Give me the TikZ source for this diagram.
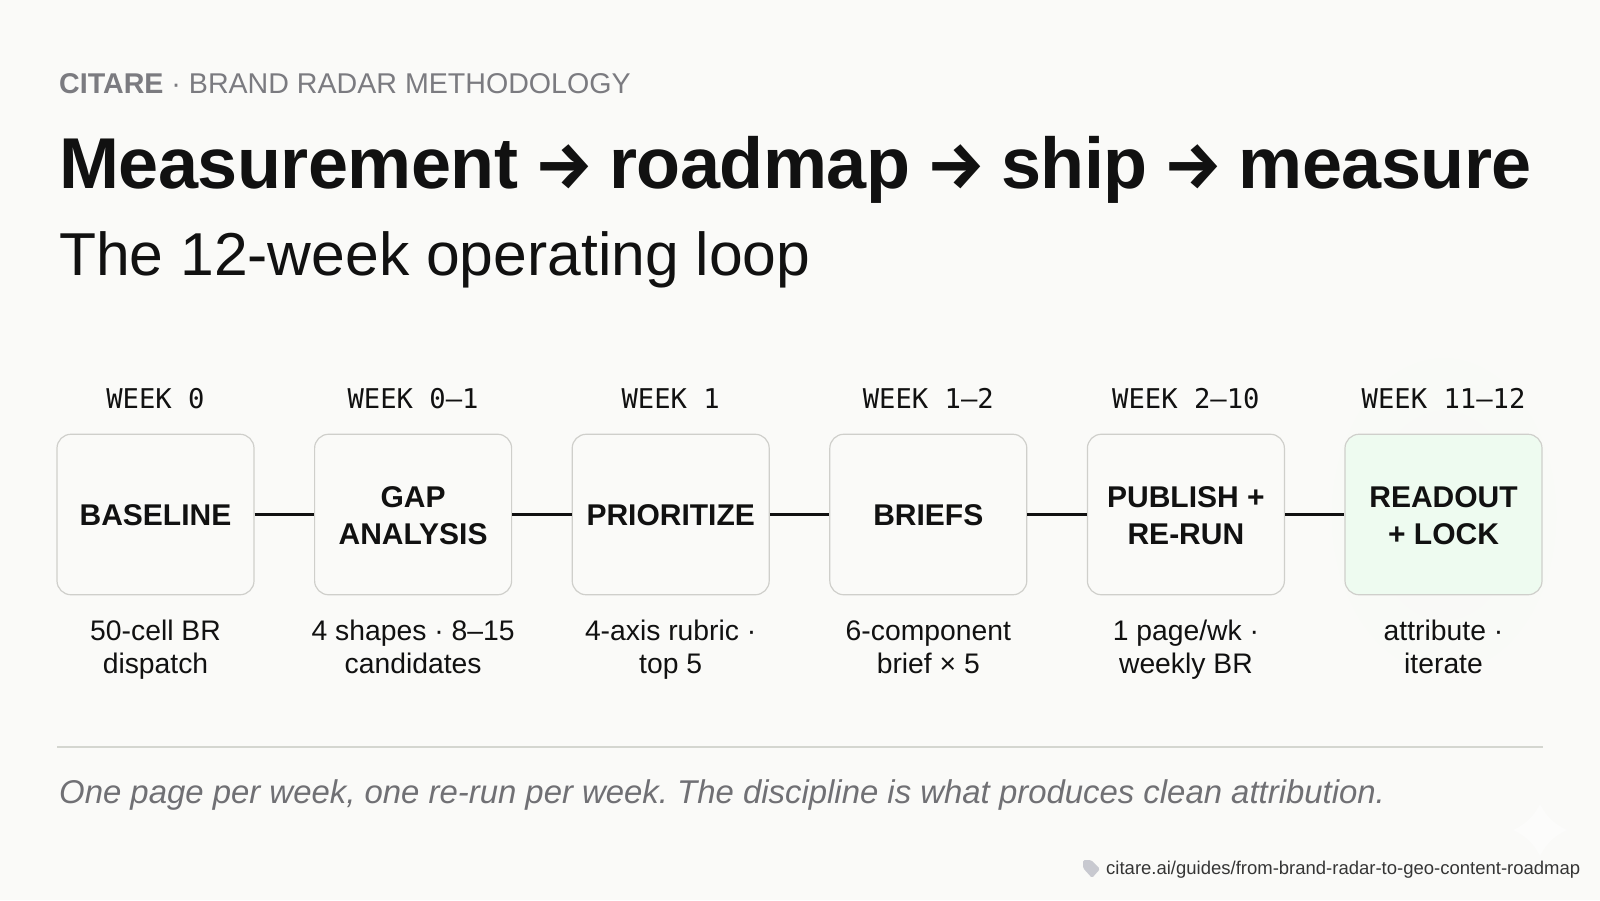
\documentclass[tikz,border=0pt]{standalone}
\usepackage{fontspec}
\setmainfont{Liberation Sans}
\setmonofont{DejaVu Sans Mono}
\newfontfamily\titlefont[LetterSpace=-0.7]{Liberation Sans}
\newfontfamily\arrowfont{Fira Sans}
\usepackage{xcolor}
\definecolor{pagebg}{HTML}{FAFAF8}
\definecolor{glowbg}{HTML}{F8F9F6}
\definecolor{ink}{HTML}{111111}
\definecolor{greytext}{HTML}{7B7B80}
\definecolor{footgrey}{HTML}{707074}
\definecolor{boxline}{HTML}{CFCFCB}
\definecolor{lockfill}{HTML}{EEFBF0}
\definecolor{rulegrey}{HTML}{D4D6D0}
\definecolor{tagicon}{HTML}{C8C9D0}
\definecolor{sparkle}{HTML}{FCFCFB}
\newcommand{\titlearrow}{\makebox[55pt][c]{\arrowfont\fontsize{66}{88}\selectfont\bfseries →}}
\newcommand{\lowline}{\rule{0pt}{23pt}}

\begin{document}
\begin{tikzpicture}[x=1pt, y=-1pt, node distance=257.6pt, line width=2.4pt,
  stage/.style={rectangle, rounded corners=14pt, draw=boxline, line width=1.2pt, fill=pagebg,
    minimum width=197pt, minimum height=160.5pt, align=center, text=ink,
    font=\fontsize{30}{37}\selectfont\bfseries},
  week/.style={text=ink, font=\fontsize{27.2}{30}\selectfont\ttfamily},
  note/.style={text=ink, align=center, font=\fontsize{28.3}{33}\selectfont},
  link/.style={draw=ink}]
  \useasboundingbox (0,0) rectangle (1600,900);
  \fill [pagebg] (0,0) rectangle (1600,900);
  \shade [inner color=glowbg, outer color=pagebg] (1443.5,515) ellipse (150 and 210);
  \fill [sparkle] (1540,804) .. controls (1546,816) and (1554,824) .. (1567,830)
     .. controls (1554,836) and (1546,844) .. (1540,856)
     .. controls (1534,844) and (1526,836) .. (1513,830)
     .. controls (1526,824) and (1534,816) .. (1540,804) -- cycle;

  \node [anchor=base west, text=greytext, inner sep=0pt, font=\fontsize{28.6}{36}\selectfont] (eyebrow) at (58,93) {\textbf{CITARE} · BRAND RADAR METHODOLOGY};
  \node [anchor=base west, text=ink, inner sep=0pt, font=\fontsize{72}{88}\selectfont\titlefont\bfseries] (title) at (58,188) {\spaceskip=18pt Measurement \titlearrow{} roadmap \titlearrow{} ship \titlearrow{} measure};
  \node [anchor=base west, text=ink, inner sep=0pt, font=\fontsize{60.6}{70}\selectfont] (subtitle) at (58,275) {The 12-week operating loop};

  \node [stage] (baseline) at (155.5,514.5) {\lowline BASELINE};
  \node [stage] (gap) [right of=baseline] {\lowline GAP\\ANALYSIS};
  \node [stage] (prioritize) [right of=gap] {\lowline PRIORITIZE};
  \node [stage] (briefs) [right of=prioritize] {\lowline BRIEFS};
  \node [stage] (publish) [right of=briefs] {\lowline PUBLISH +\\RE-RUN};
  \node [stage, fill=lockfill] (readout) [right of=publish] {\lowline READOUT\\+ LOCK};

  \path [link] (baseline) edge (gap);
  \path [link] (gap) edge (prioritize);
  \path [link] (prioritize) edge (briefs);
  \path [link] (briefs) edge (publish);
  \path [link] (publish) edge (readout);

  \node [week] (w0) [above of=baseline, node distance=116pt] {WEEK 0};
  \node [week] (w1) [above of=gap, node distance=116pt] {WEEK 0–1};
  \node [week] (w2) [above of=prioritize, node distance=116pt] {WEEK 1};
  \node [week] (w3) [above of=briefs, node distance=116pt] {WEEK 1–2};
  \node [week] (w4) [above of=publish, node distance=116pt] {WEEK 2–10};
  \node [week] (w5) [above of=readout, node distance=116pt] {WEEK 11–12};

  \node [note] (n0) [below of=baseline, node distance=135.5pt] {\strut 50-cell BR\\\strut dispatch};
  \node [note] (n1) [below of=gap, node distance=135.5pt] {\strut 4 shapes · 8–15\\\strut candidates};
  \node [note] (n2) [below of=prioritize, node distance=135.5pt] {\strut 4-axis rubric ·\\\strut top 5};
  \node [note] (n3) [below of=briefs, node distance=135.5pt] {\strut 6-component\\\strut brief × 5};
  \node [note] (n4) [below of=publish, node distance=135.5pt] {\strut 1 page/wk ·\\\strut weekly BR};
  \node [note] (n5) [below of=readout, node distance=135.5pt] {\strut attribute ·\\\strut iterate};

  \coordinate (ruleleft) at (57,747);
  \coordinate (ruleright) at (1543,747);
  \draw [rulegrey, line width=1.2pt] (ruleleft) -- (ruleright);

  \node [anchor=base west, text=footgrey, inner sep=0pt, font=\fontsize{32.9}{38}\selectfont\itshape] (foot) at (58,803) {\frenchspacing One page per week, one re-run per week. The discipline is what produces clean attribution.};

  \fill [tagicon, rounded corners=1.5pt] (1083,860) -- (1091,860) -- (1100,869) -- (1092,878) -- (1083,868) -- cycle;
  \node [anchor=base west, text=ink!85, inner sep=0pt, font=\fontsize{18.5}{22}\selectfont] (url) at (1105,874) {citare.ai/guides/from-brand-radar-to-geo-content-roadmap};
\end{tikzpicture}
\end{document}
